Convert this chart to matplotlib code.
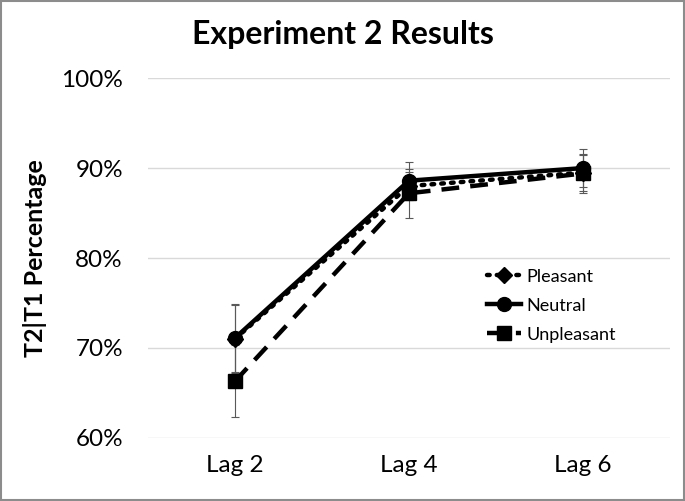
import matplotlib
matplotlib.use("Agg")
import matplotlib.pyplot as plt
from matplotlib.patches import Rectangle
from matplotlib.ticker import PercentFormatter

plt.rcParams["font.family"] = ["Lato", "DejaVu Sans"]

lags = ["Lag 2", "Lag 4", "Lag 6"]
pleasant = [71.0, 88.0, 89.5]
pleasant_err = [3.8, 1.6, 2.0]
neutral = [71.1, 88.6, 90.0]
neutral_err = [3.8, 2.1, 2.1]
unpleasant = [66.3, 87.2, 89.4]
unpleasant_err = [4.0, 2.7, 2.2]

fig = plt.figure(figsize=(6.85, 5.01), dpi=100)
ax = fig.add_axes([0.216, 0.126, 0.762, 0.718])
x = list(range(len(lags)))

err_kw = dict(ecolor="#595959", elinewidth=0.8, capsize=3, capthick=0.8, zorder=2)

ax.errorbar(x, pleasant, yerr=pleasant_err, fmt="none", **err_kw)
ax.errorbar(x, neutral, yerr=neutral_err, fmt="none", **err_kw)
ax.errorbar(x, unpleasant, yerr=unpleasant_err, fmt="none", **err_kw)

ax.plot(x, pleasant, color="black", linewidth=3.2, linestyle=(0, (0.6, 1.6)),
        dash_capstyle="round", marker="D", markersize=8, label="Pleasant", zorder=3)
ax.plot(x, neutral, color="black", linewidth=3.2, linestyle="-",
        marker="o", markersize=10, label="Neutral", zorder=4)
ax.plot(x, unpleasant, color="black", linewidth=3.2, linestyle=(0, (4, 2.5)),
        marker="s", markersize=10, label="Unpleasant", zorder=3)

ax.set_xlim(-0.5, 2.5)
ax.set_ylim(60, 100)
ax.set_yticks([60, 70, 80, 90, 100])
ax.yaxis.set_major_formatter(PercentFormatter(decimals=0))
ax.set_xticks(x)
ax.set_xticklabels(lags)
ax.tick_params(axis="both", length=0, labelsize=17.5)
ax.tick_params(axis="x", pad=12)
ax.tick_params(axis="y", pad=18)
ax.grid(axis="y", color="#d9d9d9", linewidth=1.0)
ax.set_axisbelow(True)
for s in ax.spines.values():
    s.set_visible(False)

ax.set_ylabel("T2|T1 Percentage", fontsize=18, fontweight="bold", labelpad=10)
fig.suptitle("Experiment 2 Results", fontsize=23, fontweight="bold", y=0.96)

leg = ax.legend(loc="upper left", bbox_to_anchor=(0.618, 0.516), frameon=False,
                fontsize=13, handlelength=1.9, handletextpad=0.3, labelspacing=0.72)

fig.add_artist(Rectangle((0.001, 0.001), 0.997, 0.997, transform=fig.transFigure,
                         fill=False, edgecolor="#8c8c8c", linewidth=1.5))

fig.savefig("out.png", dpi=100)
